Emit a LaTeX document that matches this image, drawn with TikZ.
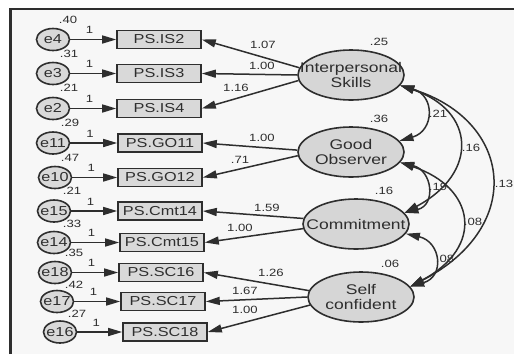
\documentclass[tikz,border=0pt]{standalone}
\usepackage{fontspec}
\setmainfont{Liberation Sans}[FakeStretch=1.25]
\usetikzlibrary{arrows.meta,shapes.geometric}
\definecolor{ln}{HTML}{2E2E2E}
\definecolor{boxfill}{HTML}{D9D9D9}
\definecolor{latfill}{HTML}{D6D6D6}
\definecolor{bg}{HTML}{F7F7F7}
\newcommand\zw[1]{\makebox[0pt]{#1}}
\begin{document}
\begin{tikzpicture}[x=1pt,y=-1pt,
  every node/.style={text=ln},
  err/.style={ellipse,draw=ln,line width=1.6pt,fill=boxfill,minimum width=33pt,minimum height=22pt,inner sep=0pt,font=\fontsize{13}{14}\selectfont},
  obs/.style={rectangle,draw=ln,line width=1.6pt,fill=boxfill,minimum width=84pt,minimum height=18pt,inner sep=0pt,font=\fontsize{13}{14}\selectfont},
  lat/.style={ellipse,draw=ln,line width=1.6pt,fill=latfill,minimum width=106pt,minimum height=50pt,inner sep=0pt},
  lattext/.style={align=center,inner sep=0pt,font=\fontsize{14}{15}\selectfont},
  lab/.style={font=\fontsize{10.5}{11}\selectfont,inner sep=0pt},
  arr/.style={draw=ln,line width=1.5pt,-{Triangle[length=14pt,width=8pt]}},
  cov/.style={draw=ln,line width=1.5pt,{Triangle[length=14pt,width=8pt]}-{Triangle[length=14pt,width=8pt]}},
]
\useasboundingbox (0,0) rectangle (514,354);
\fill[white] (0,0) rectangle (514,354);
\fill[bg] (10.5,9) rectangle (514,354);
\draw[ln,line width=2.5pt] (10.5,354) -- (10.5,9) -- (514,9);

% observed
\node[obs] (is2)   at (159,39.5) {PS.IS2};
\node[obs] (is3)   at (159,73.5) {PS.IS3};
\node[obs] (is4)   at (159,108.5) {PS.IS4};
\node[obs] (go11)  at (160,143) {PS.GO11};
\node[obs] (go12)  at (160,177.5) {PS.GO12};
\node[obs] (cmt14) at (160,211) {PS.Cmt14};
\node[obs] (cmt15) at (162,242.5) {PS.Cmt15};
\node[obs] (sc16)  at (161,272.5) {PS.SC16};
\node[obs] (sc17)  at (163,301.5) {PS.SC17};
\node[obs] (sc18)  at (165,332) {PS.SC18};

% errors
\node[err] (e4)  at (53,39.5) {\zw{e4}};
\node[err] (e3)  at (53,73.5) {\zw{e3}};
\node[err] (e2)  at (53,108.5) {\zw{e2}};
\node[err] (e11) at (53,143) {\zw{e11}};
\node[err] (e10) at (55,177.5) {\zw{e10}};
\node[err] (e15) at (54,211) {\zw{e15}};
\node[err] (e14) at (54,242.5) {\zw{e14}};
\node[err] (e18) at (55,272.5) {\zw{e18}};
\node[err] (e17) at (57,301.5) {\zw{e17}};
\node[err] (e16) at (60,332) {\zw{e16}};

% latent
\node[lat,label={[lattext]center:Interpersonal\\Skills}] (IS) at (351,75) {};
\node[lat,label={[lattext]center:Good\\Observer}] (GO) at (351,152) {};
\node[lat,label={[lattext]center:Commitment}] (CM) at (356,224) {};
\node[lat,label={[lattext]center:Self\\confident}] (SC) at (361,297) {};

% error arrows
\foreach \e/\b in {e4/is2,e3/is3,e2/is4,e11/go11,e10/go12,e15/cmt14,e14/cmt15,e18/sc16,e17/sc17,e16/sc18}
  \draw[arr] (\e) -- node[lab,pos=0.42,above=5pt]{1} (\b);

% loadings
\draw[arr] (IS.172) -- (is2.east);
\draw[arr] (IS.180) -- (is3.east);
\draw[arr] (IS.186) -- (is4.east);
\draw[arr] (GO.178) -- (go11.east);
\draw[arr] (GO.184) -- (go12.east);
\draw[arr] (CM.174) -- (cmt14.east);
\draw[arr] (CM.185) -- (cmt15.east);
\draw[arr] (SC.173) -- (sc16.east);
\draw[arr] (SC.180) -- (sc17.east);
\draw[arr] (SC.189) -- (sc18.east);

% covariances
\draw[cov] (IS.-12) .. controls +(35,10) and +(35,-10) .. (GO.13);
\draw[cov] (IS.-12) .. controls +(75,25) and +(75,-40) .. (CM.13);
\draw[cov] (IS.-12) .. controls +(112,35) and +(116,-60) .. (SC.12);
\draw[cov] (GO.-12) .. controls +(32,8) and +(32,-8) .. (CM.13);
\draw[cov] (GO.-12) .. controls +(75,25) and +(75,-40) .. (SC.12);
\draw[cov] (CM.-11) .. controls +(35,8) and +(35,-10) .. (SC.12);

% error variances
\node[lab] at (68,20) {.40};
\node[lab] at (69,54) {.31};
\node[lab] at (69,88) {.21};
\node[lab] at (70,123) {.29};
\node[lab] at (70,158) {.47};
\node[lab] at (72,191) {.21};
\node[lab] at (72,224) {.33};
\node[lab] at (74,253) {.35};
\node[lab] at (74,285) {.42};
\node[lab] at (77,314) {.27};

% latent variances
\node[lab] at (379,42) {.25};
\node[lab] at (379,119) {.36};
\node[lab] at (384,191) {.16};
\node[lab] at (390,264) {.06};

% loading labels
\node[lab] at (263,45) {1.07};
\node[lab] at (262,66) {1.00};
\node[lab] at (236,88) {1.16};
\node[lab] at (262,138) {1.00};
\node[lab] at (240,160) {.71};
\node[lab] at (267,208) {1.59};
\node[lab] at (240,228) {1.00};
\node[lab] at (271,273) {1.26};
\node[lab] at (245,291) {1.67};
\node[lab] at (245,310) {1.00};

% covariance labels
\node[lab] at (438,114) {.21};
\node[lab] at (471,148) {.16};
\node[lab] at (438,187) {.19};
\node[lab] at (473,222) {.08};
\node[lab] at (504,184) {.13};
\node[lab] at (445,259) {.08};
\end{tikzpicture}
\end{document}
